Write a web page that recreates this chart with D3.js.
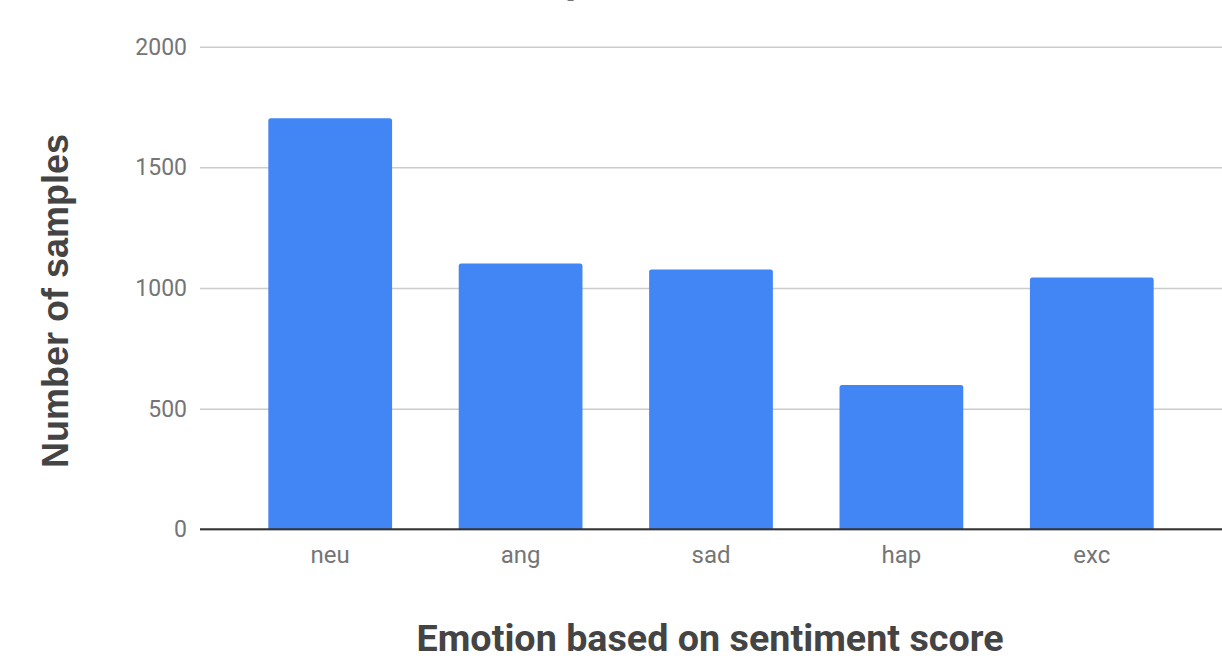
<!DOCTYPE html>
<html>
<head>
<meta charset="utf-8">
<script src="https://cdn.jsdelivr.net/npm/d3@7"></script>
<style>
  html, body { margin: 0; padding: 0; background: #fff; }
  svg { display: block; }
</style>
</head>
<body>
<svg id="chart" width="1222" height="656"></svg>
<script>
// Sample counts per emotion class
const categories = ["neu", "ang", "sad", "hap", "exc"];
const counts = [1703, 1102, 1077, 598, 1043];
const yTicks = [0, 500, 1000, 1500, 2000];

const chartTitle = "Emotion distribution in samples";
const xTitle = "Emotion based on sentiment score";
const yTitle = "Number of samples";

const svg = d3.select("#chart");
const font = "Roboto, 'Noto Sans', sans-serif";

const gridLeft = 200, gridRight = 1222;
const plotTop = 46.7, plotBottom = 529.3;

const x = d3.scaleBand()
  .domain(categories)
  .range([235, 1187])
  .paddingInner(0.35)
  .paddingOuter(0.175);

const y = d3.scaleLinear()
  .domain([0, 2000])
  .range([plotBottom, plotTop]);

// Title, mostly above the visible area
svg.append("text")
  .attr("x", 40)
  .attr("y", -7.5)
  .attr("textLength", 605)
  .attr("lengthAdjust", "spacingAndGlyphs")
  .attr("font-family", font)
  .attr("font-weight", "bold")
  .attr("font-size", 36)
  .attr("fill", "#757575")
  .text(chartTitle);

// Gridlines and y tick labels
const yAxis = d3.axisLeft(y)
  .tickValues(yTicks)
  .tickSize(-(gridRight - gridLeft))
  .tickPadding(13)
  .tickFormat(d3.format("d"));

const gy = svg.append("g")
  .attr("transform", `translate(${gridLeft},0)`)
  .call(yAxis);
gy.select(".domain").remove();
gy.selectAll(".tick line")
  .attr("stroke", "#cccccc")
  .attr("stroke-width", 1.5);
gy.selectAll(".tick text")
  .attr("font-family", font)
  .attr("font-size", 23)
  .attr("fill", "#757575");

// Bars
svg.append("g")
  .selectAll("path")
  .data(categories.map((c, i) => ({ c, v: counts[i] })))
  .join("path")
  .attr("fill", "#4285f4")
  .attr("d", d => {
    const x0 = x(d.c), w = x.bandwidth();
    const top = y(d.v), bot = y(0), r = 2.5;
    return `M${x0},${bot} V${top + r} Q${x0},${top} ${x0 + r},${top} H${x0 + w - r} Q${x0 + w},${top} ${x0 + w},${top + r} V${bot} Z`;
  });

// Baseline
svg.append("line")
  .attr("x1", gridLeft).attr("x2", gridRight)
  .attr("y1", y(0)).attr("y2", y(0))
  .attr("stroke", "#333333")
  .attr("stroke-width", 2);

// Category labels
const xAxis = d3.axisBottom(x).tickSize(0);
const gx = svg.append("g")
  .attr("transform", `translate(0,${y(0)})`)
  .call(xAxis);
gx.select(".domain").remove();
gx.selectAll(".tick text")
  .attr("y", 34)
  .attr("dy", 0)
  .attr("font-family", font)
  .attr("font-size", 24)
  .attr("fill", "#757575");

// Axis titles
svg.append("text")
  .attr("x", 710)
  .attr("y", 651)
  .attr("text-anchor", "middle")
  .attr("textLength", 587)
  .attr("lengthAdjust", "spacingAndGlyphs")
  .attr("font-family", font)
  .attr("font-weight", "bold")
  .attr("font-size", 36)
  .attr("fill", "#444444")
  .text(xTitle);

svg.append("text")
  .attr("transform", "translate(68,301) rotate(-90)")
  .attr("text-anchor", "middle")
  .attr("font-family", "'Liberation Sans', Arial, sans-serif")
  .attr("font-weight", "bold")
  .attr("font-size", 36)
  .attr("fill", "#444444")
  .text(yTitle);
</script>
</body>
</html>
